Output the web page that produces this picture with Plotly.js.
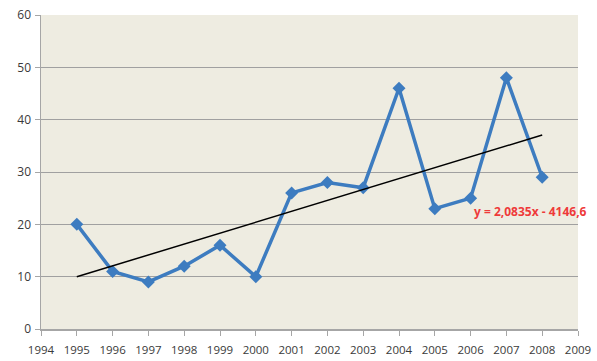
<!DOCTYPE html>
<html>
<head>
<meta charset="utf-8">
<script src="https://cdn.plot.ly/plotly-3.0.1.min.js"></script>
<style>html,body{margin:0;padding:0;background:#fff;overflow:hidden;}#chart{width:597px;height:361px;}</style>
</head>
<body>
<div id="chart"></div>
<script>
var years = [1995, 1996, 1997, 1998, 1999, 2000, 2001, 2002, 2003, 2004, 2005, 2006, 2007, 2008];
var values = [20, 11, 9, 12, 16, 10, 26, 28, 27, 46, 23, 25, 48, 29];
var trendYears = [1995, 2008];
var trendValues = [9.98, 37.07];
var trendLabel = "y = 2,0835x - 4146,6";
var xTicks = [1994, 1995, 1996, 1997, 1998, 1999, 2000, 2001, 2002, 2003, 2004, 2005, 2006, 2007, 2008, 2009];
var yTicks = [0, 10, 20, 30, 40, 50, 60];

var data = [
  {
    x: years, y: values, type: 'scatter', mode: 'lines+markers',
    line: {color: '#3d7cc0', width: 3.5},
    marker: {symbol: 'diamond', size: 10, color: '#3d7cc0'},
    showlegend: false, hoverinfo: 'x+y', cliponaxis: false
  },
  {
    x: trendYears, y: trendValues, type: 'scatter', mode: 'lines',
    line: {color: '#000000', width: 1.5},
    showlegend: false, hoverinfo: 'none'
  }
];

var layout = {
  width: 597, height: 361,
  margin: {l: 41, r: 19, t: 15, b: 32},
  paper_bgcolor: '#ffffff',
  plot_bgcolor: '#eeece1',
  font: {family: 'Open Sans, sans-serif', size: 11, color: '#3a3a3a'},
  xaxis: {
    range: [1994, 2009], tickvals: xTicks, ticktext: xTicks.map(String),
    showgrid: false, zeroline: false,
    showline: true, linecolor: '#a6a6a6', linewidth: 1.5,
    ticks: 'outside', ticklen: 5, tickcolor: '#a6a6a6', tickwidth: 1,
    ticklabelstandoff: 5,
    tickfont: {size: 11.5, color: '#3a3a3a'}, fixedrange: true
  },
  yaxis: {
    range: [0, 60], tickvals: yTicks,
    showgrid: true, gridcolor: '#a0a0a0', gridwidth: 1,
    zeroline: false,
    showline: true, linecolor: '#a6a6a6', linewidth: 1.5,
    ticks: 'outside', ticklen: 5, tickcolor: '#a6a6a6',
    ticklabelstandoff: 1,
    tickfont: {size: 12, color: '#3a3a3a'}, fixedrange: true
  },
  annotations: [{
    x: 2006.05, y: 22.4, xref: 'x', yref: 'y', xanchor: 'left', yanchor: 'middle',
    text: '<b>' + trendLabel + '</b>', showarrow: false,
    font: {family: 'Open Sans, sans-serif', size: 12, color: '#ee3a3a'}
  }]
};

Plotly.newPlot('chart', data, layout, {displayModeBar: false, staticPlot: true});
</script>
</body>
</html>
